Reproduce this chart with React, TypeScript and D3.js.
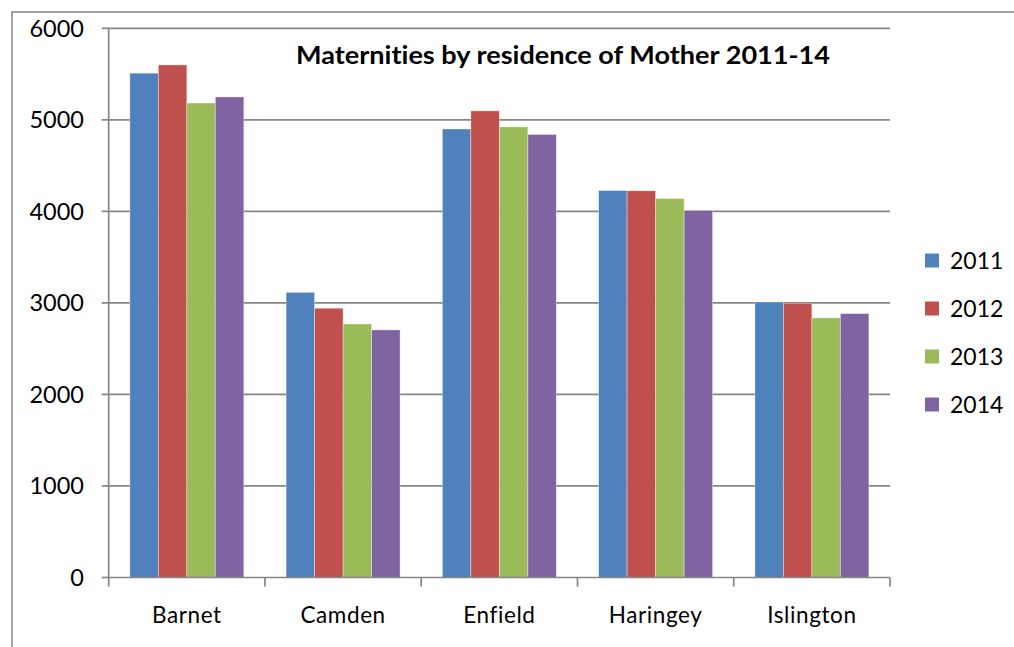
import React, { useEffect, useRef } from 'react';
import * as d3 from 'd3';

const boroughs = ['Barnet', 'Camden', 'Enfield', 'Haringey', 'Islington'];
const years = ['2011', '2012', '2013', '2014'];

// values per borough, in year order
const values2011 = [5510, 3115, 4900, 4228, 3010];
const values2012 = [5600, 2942, 5098, 4225, 2996];
const values2013 = [5184, 2770, 4923, 4140, 2836];
const values2014 = [5250, 2705, 4840, 4010, 2883];

const yTicks = [0, 1000, 2000, 3000, 4000, 5000, 6000];

const COLORS = ['#4F81BD', '#C0504D', '#9BBB59', '#8064A2'];
const GRID = '#868686';
const FONT = 'Lato, "Open Sans", sans-serif';

const MaternitiesChart: React.FC = () => {
  const svgRef = useRef<SVGSVGElement | null>(null);

  useEffect(() => {
    if (!svgRef.current) return;
    const svg = d3.select(svgRef.current);
    svg.selectAll('*').remove();

    const series = [values2011, values2012, values2013, values2014];
    const left = 108.7;
    const right = 890;
    const top = 28.3;
    const bottom = 577.5;

    const xScale = d3.scaleBand<string>().domain(boroughs).range([left, right]).padding(0);
    const xInner = d3.scaleBand<string>()
      .domain(years)
      .range([0, xScale.bandwidth()])
      .paddingInner(0)
      .paddingOuter(0.742);
    const yScale = d3.scaleLinear().domain([0, 6000]).range([bottom, top]);

    // outer frame
    svg.append('path')
      .attr('d', 'M12,660 L12,12 L1020,12')
      .attr('fill', 'none')
      .attr('stroke', GRID)
      .attr('stroke-width', 1.5);

    // gridlines
    svg.append('g')
      .selectAll('line')
      .data(yTicks.filter(t => t > 0))
      .enter().append('line')
      .attr('x1', left)
      .attr('x2', right)
      .attr('y1', d => yScale(d))
      .attr('y2', d => yScale(d))
      .attr('stroke', GRID)
      .attr('stroke-width', 1.7);

    // bars
    const groups = svg.append('g')
      .selectAll('g')
      .data(boroughs)
      .enter().append('g')
      .attr('transform', d => `translate(${xScale(d)},0)`);

    groups.selectAll('rect')
      .data((_, i) => years.map((y, j) => ({ year: y, value: series[j][i], idx: j })))
      .enter().append('rect')
      .attr('x', d => xInner(d.year)!)
      .attr('width', xInner.bandwidth())
      .attr('y', d => yScale(d.value))
      .attr('height', d => yScale(0) - yScale(d.value))
      .attr('fill', d => COLORS[d.idx])
      .attr('stroke', 'rgba(255,255,255,0.45)')
      .attr('stroke-width', 0.8);

    // y axis
    const yAxis = svg.append('g');
    yAxis.append('line')
      .attr('x1', left).attr('x2', left)
      .attr('y1', top).attr('y2', bottom)
      .attr('stroke', GRID).attr('stroke-width', 1.7);
    yAxis.selectAll('line.tick')
      .data(yTicks)
      .enter().append('line')
      .attr('class', 'tick')
      .attr('x1', left - 7).attr('x2', left)
      .attr('y1', d => yScale(d)).attr('y2', d => yScale(d))
      .attr('stroke', GRID).attr('stroke-width', 1.7);
    yAxis.selectAll('text')
      .data(yTicks)
      .enter().append('text')
      .attr('x', 84)
      .attr('y', d => yScale(d))
      .attr('dy', '0.36em')
      .attr('text-anchor', 'end')
      .attr('font-family', FONT)
      .attr('font-size', 23.5)
      .attr('fill', '#000')
      .text(d => d);

    // x axis
    const xAxis = svg.append('g');
    xAxis.append('line')
      .attr('x1', left).attr('x2', right)
      .attr('y1', bottom).attr('y2', bottom)
      .attr('stroke', GRID).attr('stroke-width', 1.7);
    const boundaries = [...boroughs.map(b => xScale(b)!), right];
    xAxis.selectAll('line.tick')
      .data(boundaries)
      .enter().append('line')
      .attr('class', 'tick')
      .attr('x1', d => d).attr('x2', d => d)
      .attr('y1', bottom).attr('y2', bottom + 9)
      .attr('stroke', GRID).attr('stroke-width', 1.7);
    xAxis.selectAll('text')
      .data(boroughs)
      .enter().append('text')
      .attr('x', d => xScale(d)! + xScale.bandwidth() / 2)
      .attr('y', 623)
      .attr('text-anchor', 'middle')
      .attr('font-family', FONT)
      .attr('font-size', 22.5)
      .attr('letter-spacing', 0.6)
      .attr('fill', '#000')
      .text(d => d);

    // title
    svg.append('text')
      .attr('x', 296)
      .attr('y', 64)
      .attr('font-family', FONT)
      .attr('font-weight', 'bold')
      .attr('font-size', 25)
      .attr('textLength', 534)
      .attr('lengthAdjust', 'spacingAndGlyphs')
      .style('font-variant-ligatures', 'none')
      .attr('fill', '#000')
      .text('Maternities by residence of Mother 2011-14');

    // legend
    const legend = svg.append('g')
      .selectAll('g')
      .data(years)
      .enter().append('g')
      .attr('transform', (_, i) => `translate(925,${253.5 + i * 48})`);
    legend.append('rect')
      .attr('width', 14).attr('height', 14)
      .attr('fill', (_, i) => COLORS[i]);
    legend.append('text')
      .attr('x', 25)
      .attr('y', 7)
      .attr('dy', '0.36em')
      .attr('font-family', FONT)
      .attr('font-size', 23)
      .attr('fill', '#000')
      .text(d => d);
  }, []);

  return (
    <svg
      ref={svgRef}
      width={1014}
      height={647}
      style={{ position: 'absolute', left: 0, top: 0, background: '#fff' }}
    />
  );
};

export default function App() {
  return <MaternitiesChart />;
}
